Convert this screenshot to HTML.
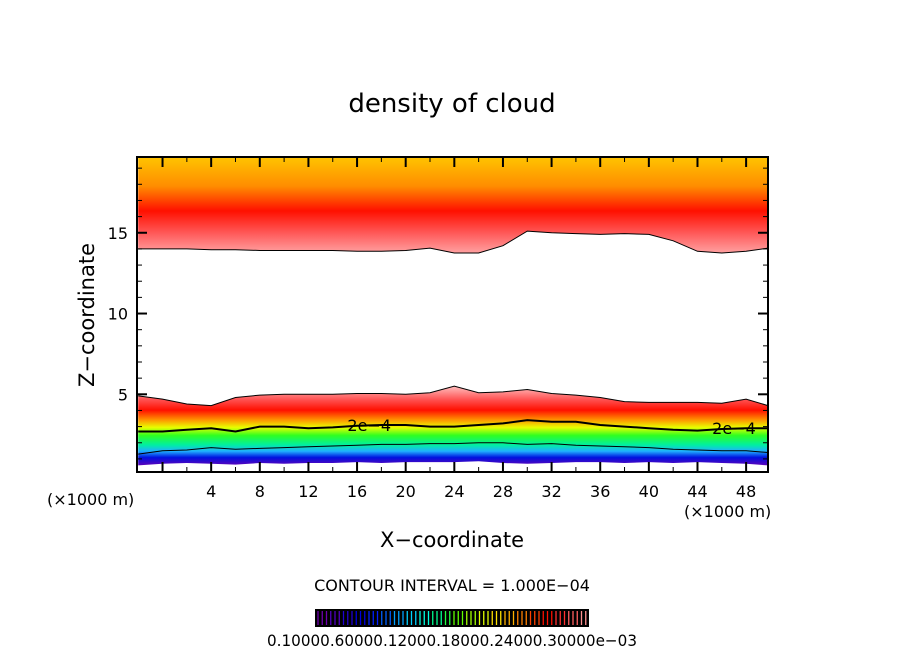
<!DOCTYPE html>
<html><head><meta charset="utf-8"><style>
body{margin:0;background:#fff}
svg text{font-family:"DejaVu Sans","Liberation Sans",sans-serif}
</style></head><body>
<svg id="chart" width="904" height="654" xmlns="http://www.w3.org/2000/svg">
<defs>
<linearGradient id="gUp" gradientUnits="userSpaceOnUse" x1="0" y1="157" x2="0" y2="255">
<stop offset="0" stop-color="#ffc400"/><stop offset="0.3" stop-color="#ff8c00"/><stop offset="0.55" stop-color="#ff1000"/><stop offset="0.78" stop-color="#ff5a5a"/><stop offset="1" stop-color="#ffa8a8"/>
</linearGradient>
<linearGradient id="gLo" gradientUnits="userSpaceOnUse" x1="0" y1="388" x2="0" y2="467">
<stop offset="0" stop-color="#ffb0b0"/><stop offset="0.15" stop-color="#ff5050"/><stop offset="0.28" stop-color="#ff1000"/><stop offset="0.4" stop-color="#ff9000"/><stop offset="0.5" stop-color="#e8ff00"/><stop offset="0.6" stop-color="#30ff20"/><stop offset="0.72" stop-color="#00f0a0"/><stop offset="0.8" stop-color="#20b0ff"/><stop offset="0.88" stop-color="#0010e0"/><stop offset="1" stop-color="#7000b0"/>
</linearGradient>
</defs>
<text x="452" y="112" font-size="26" text-anchor="middle">density of cloud</text>
<g id="plot"></g>
<text transform="translate(94,315) rotate(-90)" font-size="21" text-anchor="middle">Z−coordinate</text>
<text x="452" y="547" font-size="21" text-anchor="middle">X−coordinate</text>
<text x="47" y="505" font-size="16">(×1000 m)</text>
<text x="684" y="517" font-size="16">(×1000 m)</text>
<text x="452" y="591" font-size="16" text-anchor="middle">CONTOUR INTERVAL = 1.000E−04</text>
<g id="cbar"></g>
<text x="452" y="646" font-size="16" text-anchor="middle" textLength="370" lengthAdjust="spacingAndGlyphs">0.10000.60000.12000.18000.24000.30000e−03</text>
</svg>
<script>
const xs=[-2,0,2,4,6,8,10,12,14,16,18,20,22,24,26,28,30,32,34,36,38,40,42,44,46,48,50];
const upperBase=[14.0,14.0,14.0,13.95,13.95,13.9,13.9,13.9,13.9,13.85,13.85,13.9,14.05,13.75,13.75,14.2,15.1,15.0,14.95,14.9,14.95,14.9,14.5,13.85,13.75,13.85,14.05];
const lowerTop=[4.9,4.7,4.4,4.3,4.8,4.95,5.0,5.0,5.0,5.05,5.05,5.0,5.1,5.5,5.1,5.15,5.3,5.05,4.95,4.8,4.55,4.5,4.5,4.5,4.45,4.7,4.3];
const c2e4=[2.7,2.7,2.8,2.9,2.7,3.0,3.0,2.9,2.95,3.05,3.1,3.1,3.0,3.0,3.1,3.2,3.4,3.3,3.3,3.1,3.0,2.9,2.8,2.75,2.85,2.9,2.9];
const c1e4=[1.3,1.5,1.55,1.7,1.6,1.65,1.7,1.75,1.8,1.85,1.9,1.9,1.95,1.95,2.0,2.0,1.9,1.95,1.85,1.8,1.75,1.7,1.6,1.55,1.5,1.5,1.4];
const lowerBottom=[0.6,0.7,0.75,0.7,0.65,0.75,0.7,0.75,0.75,0.8,0.75,0.8,0.8,0.8,0.85,0.75,0.7,0.75,0.8,0.8,0.75,0.8,0.75,0.8,0.75,0.7,0.6];
const xTicks=[4,8,12,16,20,24,28,32,36,40,44,48];
const yTicks=[5,10,15];
const L=137,R=768,T=157,B=472,X0=-2.1,X1=49.8,Z0=0.19,Z1=19.69;
const sx=x=>L+(x-X0)/(X1-X0)*(R-L);
const sy=z=>B-(z-Z0)/(Z1-Z0)*(B-T);
const NS='http://www.w3.org/2000/svg';
const plot=document.getElementById('plot');
function mk(t,a,p){const e=document.createElementNS(NS,t);for(const k in a)e.setAttribute(k,a[k]);(p||plot).appendChild(e);return e;}
const cx=x=>Math.min(R,Math.max(L,sx(x)));
function line(arr){return xs.map((x,i)=>cx(x).toFixed(1)+','+sy(arr[i]).toFixed(1)).join(' ');}
let up=mk('polygon',{points:cx(xs[0])+','+T+' '+line(upperBase)+' '+R+','+T,fill:'url(#gUp)'});

let lo=mk('polygon',{points:line(lowerTop)+' '+xs.slice().reverse().map((x,j)=>cx(x).toFixed(1)+','+sy(lowerBottom[xs.length-1-j]).toFixed(1)).join(' '),fill:'url(#gLo)'});

let a=mk('polyline',{points:line(upperBase),fill:'none',stroke:'#000','stroke-width':1});

let b=mk('polyline',{points:line(lowerTop),fill:'none',stroke:'#000','stroke-width':1});

let c=mk('polyline',{points:line(c2e4),fill:'none',stroke:'#000','stroke-width':2});

let d=mk('polyline',{points:line(c1e4),fill:'none',stroke:'#000','stroke-width':1});

[[17,c2e4[10]],[47,c2e4[25]]].forEach(([x,z])=>{
 let t=mk('text',{x:sx(x),y:sy(z)+6,'font-size':16,'text-anchor':'middle'});t.textContent='2e−4';
 
});
let fr=mk('rect',{x:L,y:T,width:R-L,height:B-T,fill:'none',stroke:'#000','stroke-width':2});

for(let x=0;x<=48;x+=2){const big=x%4==0;
 mk('line',{x1:sx(x),x2:sx(x),y1:B,y2:B-(big?10:5),stroke:'#000','stroke-width':big?2:1});
 mk('line',{x1:sx(x),x2:sx(x),y1:T,y2:T+(big?10:5),stroke:'#000','stroke-width':big?2:1});}
xTicks.forEach(x=>{let t=mk('text',{x:sx(x),y:B+25,'font-size':16,'text-anchor':'middle'});t.textContent=x;
 });
for(let z=1;z<=19;z++){const big=z%5==0;
 mk('line',{x1:L,x2:L+(big?10:5),y1:sy(z),y2:sy(z),stroke:'#000','stroke-width':big?2:1});
 mk('line',{x1:R,x2:R-(big?10:5),y1:sy(z),y2:sy(z),stroke:'#000','stroke-width':big?2:1});}
yTicks.forEach(z=>{let t=mk('text',{x:L-9,y:sy(z)+6,'font-size':16,'text-anchor':'end'});t.textContent=z;
 });
const cb=document.getElementById('cbar');
mk('rect',{x:315,y:609,width:274,height:18,fill:'#000'},cb);
const cols=['#7000b0','#5000c0','#2000d0','#0000e0','#0020ff','#0060ff','#00a0ff','#00d0ff','#00ffe0','#00ff90','#20ff40','#60ff00','#a0ff00','#e0ff00','#ffe000','#ffb000','#ff8000','#ff4000','#ff1000','#ff3030','#ff6060','#ff9090'];
for(let i=0;i<64;i++){const x=318+i*4.25;const col=cols[Math.floor(i/64*cols.length)];
 mk('line',{x1:x,x2:x,y1:611,y2:625,stroke:col,'stroke-width':1.3},cb);}
</script>
</body></html>
